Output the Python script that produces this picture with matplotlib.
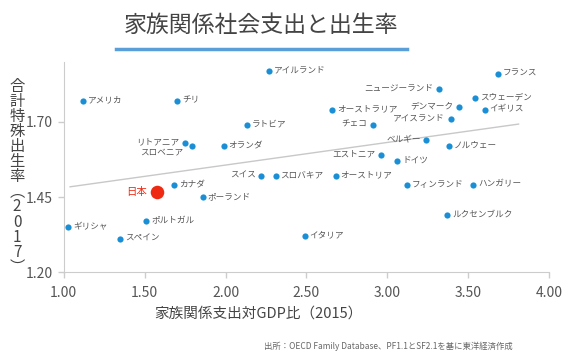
import matplotlib.pyplot as plt
from matplotlib.lines import Line2D

plt.rcParams['font.family'] = ['Noto Sans CJK JP', 'DejaVu Sans']

# data
countries = ['アメリカ', 'チリ', 'アイルランド', 'ラトビア', 'リトアニア', 'スロベニア', 'オランダ',
             'スイス', 'スロバキア', 'カナダ', 'ポーランド', 'ポルトガル', 'ギリシャ', 'スペイン',
             'イタリア', 'フランス', 'ニュージーランド', 'スウェーデン', 'デンマーク', 'イギリス',
             'オーストラリア', 'アイスランド', 'チェコ', 'ベルギー', 'ノルウェー', 'エストニア',
             'ドイツ', 'オーストリア', 'フィンランド', 'ハンガリー', 'ルクセンブルク']
spend = [1.12, 1.70, 2.27, 2.13, 1.75, 1.79, 1.99,
         2.22, 2.31, 1.68, 1.86, 1.51, 1.03, 1.35,
         2.49, 3.68, 3.32, 3.54, 3.44, 3.60,
         2.66, 3.39, 2.91, 3.24, 3.38, 2.96,
         3.06, 2.68, 3.12, 3.53, 3.37]
tfr = [1.77, 1.77, 1.87, 1.69, 1.63, 1.62, 1.62,
       1.52, 1.52, 1.49, 1.45, 1.37, 1.35, 1.31,
       1.32, 1.86, 1.81, 1.78, 1.75, 1.74,
       1.74, 1.71, 1.69, 1.64, 1.62, 1.59,
       1.57, 1.52, 1.49, 1.49, 1.39]
# countries whose label sits left of the dot
left_side = ['リトアニア', 'スイス', 'ニュージーランド', 'デンマーク', 'アイスランド',
             'チェコ', 'ベルギー', 'エストニア']

japan_x, japan_y = 1.575, 1.466
trend_x = [1.04, 3.81]
trend_y = [1.484, 1.693]

xticks = [1.00, 1.50, 2.00, 2.50, 3.00, 3.50, 4.00]
yticks = [1.20, 1.45, 1.70]

fig = plt.figure(figsize=(5.7, 3.61), dpi=100)
ax = fig.add_axes([0.1116, 0.2465, 0.9637 - 0.1116, 0.8283 - 0.2465])

ax.plot(trend_x, trend_y, color='#c8c8c8', lw=1, zorder=1)
ax.scatter(spend, tfr, s=20, color='#1a8fd6', zorder=3, linewidths=0)
ax.scatter([japan_x], [japan_y], s=95, color='#ee2a12', zorder=3, linewidths=0)

lab_color = '#555555'
lab_size = 6.2
for name, x, y in zip(countries, spend, tfr):
    if name == 'スロベニア':
        ax.annotate(name, (x, y), xytext=(-6, -4), textcoords='offset points',
                    ha='right', va='center', fontsize=lab_size, color=lab_color)
    elif name in left_side:
        ax.annotate(name, (x, y), xytext=(-4, 0.5), textcoords='offset points',
                    ha='right', va='center', fontsize=lab_size, color=lab_color)
    else:
        ax.annotate(name, (x, y), xytext=(3.5, 0.5), textcoords='offset points',
                    ha='left', va='center', fontsize=lab_size, color=lab_color)
ax.annotate('日本', (japan_x, japan_y), xytext=(-7, 0.5), textcoords='offset points',
            ha='right', va='center', fontsize=7.5, color='#ee2a12')

ax.set_xlim(1.0, 4.0)
ax.set_ylim(1.20, 1.90)
ax.set_xticks(xticks)
ax.set_xticklabels(['%.2f' % v for v in xticks])
ax.set_yticks(yticks)
ax.set_yticklabels(['%.2f' % v for v in yticks])
ax.tick_params(colors='#cccccc', labelcolor='#555555', labelsize=10, length=4, width=1)
for side in ['top', 'right']:
    ax.spines[side].set_visible(False)
for side in ['left', 'bottom']:
    ax.spines[side].set_color('#cccccc')
ax.tick_params(axis='x', pad=6)

ax.set_xlabel('家族関係支出対GDP比（2015）', fontsize=10.5, color='#444444')
ax.xaxis.set_label_coords(0.4005, -0.163)

ylab = '\n'.join(['合', '計', '特', '殊', '出', '生', '率', '︵', '2', '0', '1', '7', '︶'])
fig.text(0.03, 0.51, ylab, fontsize=11, color='#444444', ha='center', va='center',
         linespacing=0.85)

fig.text(261 / 570, 1 - 25 / 361, '家族関係社会支出と出生率', fontsize=16.5, color='#444444',
         ha='center', va='center')
fig.add_artist(Line2D([116 / 570, 407 / 570], [1 - 49 / 361, 1 - 49 / 361],
                      color='#5b9fd8', lw=2.5))

fig.text(0.9, 0.04, '出所：OECD Family Database、PF1.1とSF2.1を基に東洋経済作成',
         fontsize=6, color='#666666', ha='right', va='center')

fig.savefig('out.png', dpi=100)
